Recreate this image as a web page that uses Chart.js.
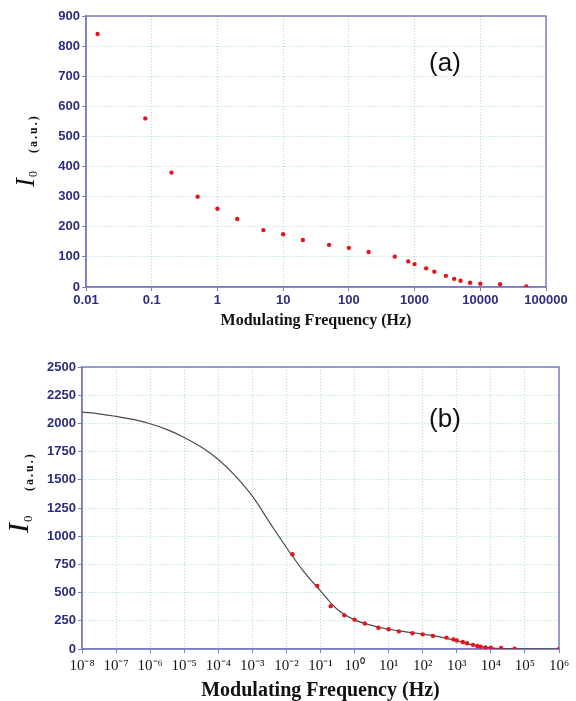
<!DOCTYPE html>
<html>
<head>
	<title>I0 vs Modulating Frequency</title>
	<script src="https://cdn.jsdelivr.net/npm/chart.js@4.4.1/dist/chart.umd.min.js"></script>
	<style>
		body { margin: 0; background: #fff; }
		canvas { position: absolute; left: 0; }
		#chartA { top: 0; }
		#chartB { top: 345px; }
	</style>
</head>
<body>
	<canvas id="chartA" width="576" height="345"></canvas>
	<canvas id="chartB" width="576" height="356"></canvas>
	<script type="text/javascript">
		// measured points (Hz, a.u.)
		var freq = [0.015, 0.08, 0.2, 0.5, 1, 2, 5, 10, 20, 50, 100, 200, 500, 800, 1000, 1500, 2000, 3000, 4000, 5000, 7000, 10000, 20000, 50000];
		var intensity = [840, 560, 380, 300, 260, 226, 189, 175, 156, 140, 130, 116, 101, 85, 76, 62, 51, 37, 27, 21, 14, 11, 9, 2];

		// extra point shown only in (b)
		var endFreq = [1000000];
		var endIntensity = [0];

		// fitted curve in (b), read at half decades
		var fitFreq = [1e-8, 3.16e-8, 1e-7, 3.16e-7, 1e-6, 3.16e-6, 1e-5, 3.16e-5, 1e-4, 3.16e-4, 1e-3, 3.16e-3, 1e-2, 3.16e-2, 1e-1, 3.16e-1, 1, 3.16, 10, 31.6, 100, 316, 1000, 3162, 1e4, 3.16e4, 1e5, 1e6];
		var fitIntensity = [2100, 2085, 2062, 2035, 1997, 1945, 1875, 1790, 1680, 1535, 1355, 1125, 900, 690, 515, 350, 258, 210, 175, 152, 132, 108, 74, 32, 10, 3, 1, 0];

		var decadesA = [0.01, 0.1, 1, 10, 100, 1000, 10000, 100000];
		var labelsA = ['0.01', '0.1', '1', '10', '100', '1000', '10000', '100000'];
		var decadesB = [1e-8, 1e-7, 1e-6, 1e-5, 1e-4, 1e-3, 1e-2, 1e-1, 1, 1e1, 1e2, 1e3, 1e4, 1e5, 1e6];
		var labelsB = ['10⁻⁸', '10⁻⁷', '10⁻⁶', '10⁻⁵', '10⁻⁴', '10⁻³', '10⁻²', '10⁻¹', '10⁰', '10¹', '10²', '10³', '10⁴', '10⁵', '10⁶'];

		var navy = '#2d2d80';
		var frameColor = '#7c7cc0';
		var gridColor = 'rgba(130, 200, 200, 0.7)';
		var red = '#e3141c';
		var serif = '"Times New Roman", "Liberation Serif", serif';
		var sans = 'Arial, "Liberation Sans", sans-serif';

		function toXY(xs, ys) {
			var out = [];
			for (var i = 0; i < xs.length; i++) out.push({x: xs[i], y: ys[i]});
			return out;
		}

		var framePlugin = {
			id: 'frame',
			beforeDatasetsDraw: function(chart) {
				var a = chart.chartArea, ctx = chart.ctx;
				ctx.save();
				ctx.strokeStyle = frameColor;
				ctx.lineWidth = 1.5;
				ctx.strokeRect(a.left, a.top, a.right - a.left, a.bottom - a.top);
				ctx.restore();
			},
			afterDraw: function(chart, args, o) {
				var ctx = chart.ctx;
				ctx.save();
				ctx.fillStyle = '#111';
				ctx.textBaseline = 'alphabetic';
				ctx.translate(o.x, o.y);
				ctx.rotate(-Math.PI / 2);
				ctx.font = 'italic ' + o.size + 'px ' + serif;
				ctx.fillText('I', 0, 0);
				var w = ctx.measureText('I').width;
				ctx.font = o.subSize + 'px ' + serif;
				ctx.fillText('0', w + 1, o.subDrop);
				ctx.font = 'bold ' + o.unitSize + 'px ' + serif;
				ctx.letterSpacing = '2px';
				ctx.fillText('(a.u.)', o.unitStart, o.unitDrop);
				ctx.restore();

				ctx.save();
				ctx.fillStyle = '#111';
				ctx.font = '26px ' + sans;
				ctx.textAlign = 'center';
				ctx.textBaseline = 'middle';
				ctx.fillText(o.panel, o.px, o.py);
				ctx.restore();
			}
		};

		function yAxis(max, step, width, showEvery) {
			return {
				min: 0, max: max,
				afterFit: function(s) { s.width = width; },
				ticks: {
					stepSize: step,
					color: navy,
					padding: 2,
					font: {family: sans, size: 13, weight: 'bold'},
					callback: function(v) { return v % showEvery === 0 ? v : ''; }
				},
				grid: {color: gridColor, lineWidth: 1, tickLength: 4, tickColor: frameColor, tickWidth: 1},
				border: {color: frameColor, width: 1.5, dash: [1, 2]}
			};
		}

		var ctxA = document.getElementById('chartA');
		var chartA = new Chart(ctxA, {
			type: 'scatter',
			data: {
				datasets: [{
					label: 'I0',
					data: toXY(freq, intensity),
					backgroundColor: red,
					borderColor: red,
					pointRadius: 2.2,
					pointBorderWidth: 0
				}]
			},
			options: {
				responsive: false,
				animation: false,
				layout: {padding: {top: 16, right: 30, left: 0, bottom: 0}},
				plugins: {
					legend: {display: false},
					tooltip: {enabled: false},
					frame: {x: 34, y: 187, size: 27, subSize: 12, subDrop: 3, unitSize: 12, unitStart: 34, unitDrop: 3, panel: '(a)', px: 445, py: 64}
				},
				scales: {
					x: {
						type: 'logarithmic',
						min: 0.01, max: 100000,
						afterBuildTicks: function(s) { s.ticks = decadesA.map(function(v) { return {value: v}; }); },
						afterFit: function(s) { s.height = 58; },
						ticks: {
							color: navy,
							padding: 2,
							maxRotation: 0,
							autoSkip: false,
							font: {family: sans, size: 13, weight: 'bold'},
							callback: function(v, i) { return labelsA[i]; }
						},
						grid: {color: gridColor, lineWidth: 1, tickLength: 4, tickColor: frameColor, tickWidth: 1},
						border: {color: frameColor, width: 1.5, dash: [1, 2]},
						title: {
							display: true,
							text: 'Modulating Frequency (Hz)',
							color: '#111',
							font: {family: serif, size: 16, weight: 'bold', lineHeight: 1.2},
							padding: {top: 0, bottom: 15}
						}
					},
					y: yAxis(900, 100, 86, 100)
				}
			},
			plugins: [framePlugin]
		});

		var ctxB = document.getElementById('chartB');
		var chartB = new Chart(ctxB, {
			type: 'scatter',
			data: {
				datasets: [{
					label: 'I0',
					data: toXY(freq, intensity).concat(toXY(endFreq, endIntensity)),
					backgroundColor: red,
					borderColor: red,
					pointRadius: 2.2,
					pointBorderWidth: 0
				}, {
					label: 'fit',
					type: 'line',
					data: toXY(fitFreq, fitIntensity),
					borderColor: '#4a4a4a',
					borderWidth: 1.2,
					pointRadius: 0,
					tension: 0.4,
					fill: false
				}]
			},
			options: {
				responsive: false,
				animation: false,
				layout: {padding: {top: 22, right: 17, left: 0, bottom: 0}},
				plugins: {
					legend: {display: false},
					tooltip: {enabled: false},
					frame: {x: 28, y: 188, size: 30, subSize: 13, subDrop: 4, unitSize: 12, unitStart: 42, unitDrop: 5, panel: '(b)', px: 445, py: 75}
				},
				scales: {
					x: {
						type: 'logarithmic',
						min: 1e-8, max: 1e6,
						afterBuildTicks: function(s) { s.ticks = decadesB.map(function(v) { return {value: v}; }); },
						afterFit: function(s) { s.height = 52; },
						ticks: {
							color: '#151515',
							padding: 4,
							maxRotation: 0,
							autoSkip: false,
							font: {family: serif, size: 15},
							callback: function(v, i) { return labelsB[i]; }
						},
						grid: {color: gridColor, lineWidth: 1, tickLength: 4, tickColor: frameColor, tickWidth: 1},
						border: {color: frameColor, width: 1.5, dash: [1, 2]},
						title: {
							display: true,
							text: 'Modulating Frequency (Hz)',
							color: '#111',
							font: {family: serif, size: 20, weight: 'bold', lineHeight: 1},
							padding: {top: 0, bottom: 0}
						}
					},
					y: yAxis(2500, 125, 82, 250)
				}
			},
			plugins: [framePlugin]
		});
	</script>
</body>
</html>
